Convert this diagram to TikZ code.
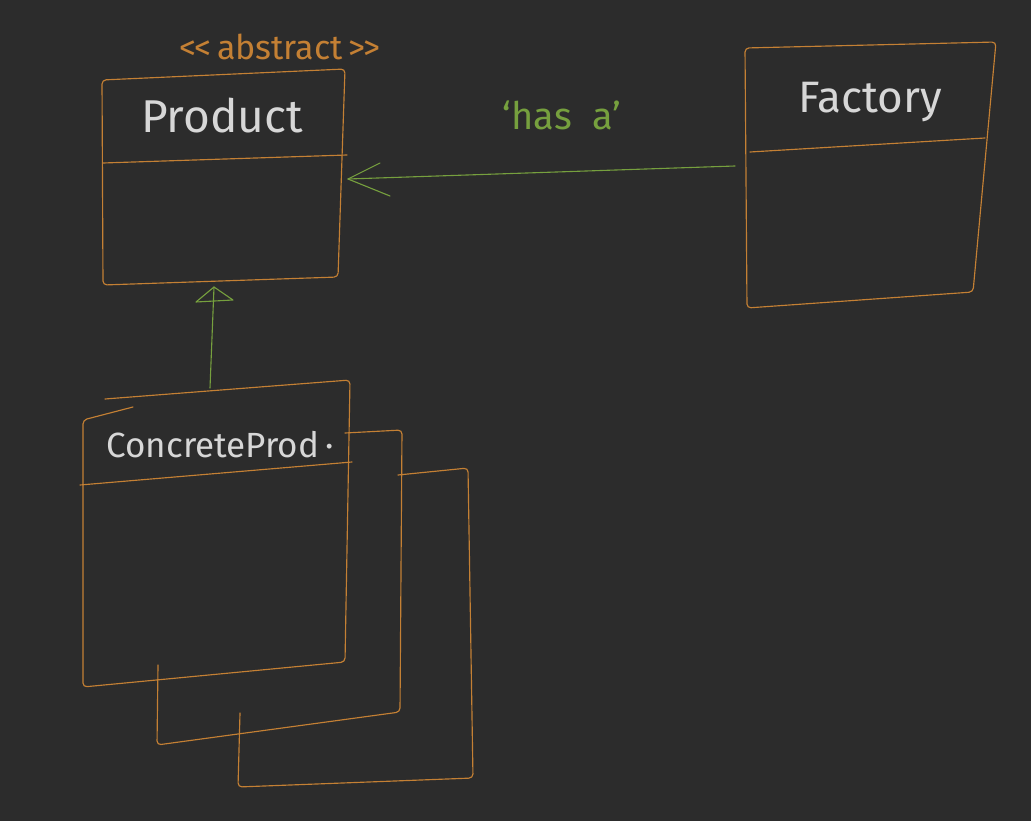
\documentclass[tikz,border=0pt]{standalone}
\usepackage{fontspec}
\setmainfont{Fira Sans}
\usetikzlibrary{calc}
\definecolor{bg}{RGB}{44,44,44}
\definecolor{pen}{RGB}{196,128,52}
\definecolor{grn}{RGB}{118,160,62}
\definecolor{chalk}{RGB}{215,215,215}
\begin{document}
\begin{tikzpicture}[x=1pt,y=-1pt,line cap=round,line join=round,
  boxline/.style={draw=pen,line width=1.15pt,rounded corners=4pt},
  conn/.style={draw=grn,line width=1.1pt},
  title/.style={text=chalk,font=\fontsize{46}{48}\selectfont,inner sep=0pt},
  note/.style={text=grn,font=\fontsize{38}{40}\selectfont,inner sep=0pt}]
\fill[bg] (0,0) rectangle (1031,821);
\useasboundingbox (0,0) rectangle (1031,821);
% Product
\draw[boxline] (102,80) -- (345,69) -- (338,277) -- (103,285) -- cycle;
\draw[boxline,rounded corners=0pt] (103,163) -- (347,155);
\node[title] (product) at (222,116) {Product};
\node[text=pen,font=\fontsize{34}{36}\selectfont,inner sep=0pt] (abstract) at (280,47) {{<}\kern-2pt{<}\,abstract\,{>}\kern-2pt{>}};
% Factory
\draw[boxline] (745,48) -- (996,42) -- (973,292) -- (747,308) -- cycle;
\draw[boxline,rounded corners=0pt] (750,152) -- (985,138);
\node[title,font=\fontsize{44}{46}\selectfont] (factory) at (870,102) {Factory};
% Concrete products (stacked)
\draw[boxline] (398,475) -- (468,468) -- (473,778) -- (238,787) -- (240,713);
\draw[boxline] (345,433) -- (402,430) -- (400,712) -- (157,745) -- (158,665);
\draw[boxline] (105,399) -- (350,380) -- (345,662) -- (83,687) -- (83,420) -- (133,407);
\draw[boxline,rounded corners=0pt] (80,485) -- (352,462);
\node[title,font=\fontsize{35}{37}\selectfont] (concrete) at (220,445) {ConcreteProd\,·};
% anchor points for connectors
\coordinate (fl) at (735,166);
\coordinate (pr) at (348,179);
\coordinate (pb) at (214,287);
\coordinate (ct) at (210,388);
% has-a association
\draw[conn] (fl) -- (pr);
\draw[conn] ($(pr)+(32,-16)$) -- (pr) -- ($(pr)+(42,17)$);
\node[note] (hasa) at (562,115) {`has\ \ a'};
% inheritance
\draw[conn] (ct) -- (pb);
\draw[conn] (pb) -- (233,300) -- (196,302) -- cycle;
\end{tikzpicture}
\end{document}
